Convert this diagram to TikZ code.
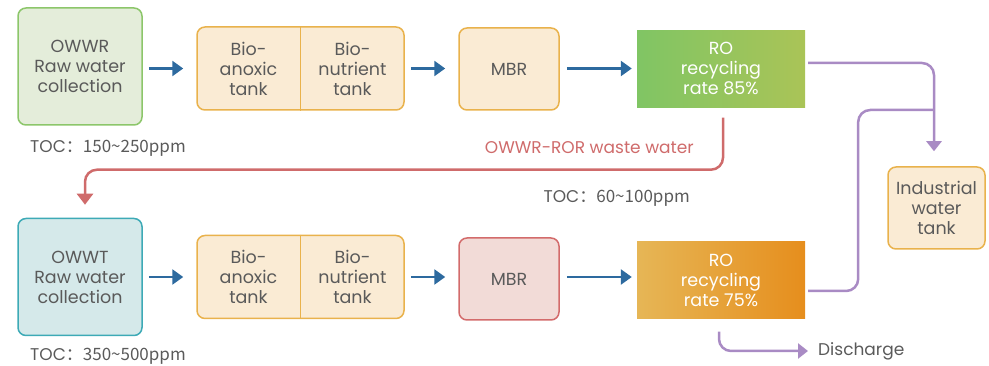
\documentclass[tikz,border=0pt]{standalone}
\usepackage{fontspec}
\setmainfont{Poppins}
\newfontfamily\cjk{Noto Sans CJK SC}
\usetikzlibrary{arrows.meta,positioning,calc}
\definecolor{wwText}{HTML}{5A5A5A}
\definecolor{wwFlow}{HTML}{2D6A9F}
\definecolor{wwRecyc}{HTML}{A98BC4}
\definecolor{wwWaste}{HTML}{CF6B6B}
\definecolor{wwGreen}{HTML}{8CC66A}
\definecolor{wwGreenBg}{HTML}{E4EDDA}
\definecolor{wwTeal}{HTML}{3DAAB6}
\definecolor{wwTealBg}{HTML}{D5E9EA}
\definecolor{wwTank}{HTML}{E9B24C}
\definecolor{wwTankBg}{HTML}{FAEBD4}
\definecolor{wwMbrRed}{HTML}{D36B6B}
\definecolor{wwMbrBg}{HTML}{F2DBD7}
\definecolor{wwRoGa}{HTML}{80C564}
\definecolor{wwRoGb}{HTML}{AAC457}
\definecolor{wwRoOa}{HTML}{E6B656}
\definecolor{wwRoOb}{HTML}{E68E1D}
\tikzset{
  wwnode/.style={
    draw, rounded corners=8pt, line width=1.5pt, align=center,
    font=\fontsize{17.5}{20}\selectfont, text=wwText, inner sep=0pt
  },
  rawbox/.style={wwnode, minimum width=124, minimum height=117},
  owwrbox/.style={rawbox, fill=wwGreenBg, draw=wwGreen},
  owwtbox/.style={rawbox, fill=wwTealBg, draw=wwTeal},
  tankbox/.style={wwnode, fill=wwTankBg, draw=wwTank, minimum width=207, minimum height=83},
  tanktext/.style={align=center, font=\fontsize{17.5}{20}\selectfont, text=wwText, inner sep=0pt},
  tankline/.style={draw=wwTank, line width=1.5pt},
  mbrbox/.style={wwnode, fill=wwTankBg, draw=wwTank, minimum width=100, minimum height=82},
  mbrredbox/.style={mbrbox, fill=wwMbrBg, draw=wwMbrRed},
  robox/.style={align=center, font=\fontsize{17.5}{20}\selectfont, text=white,
    inner sep=0pt, minimum width=168, minimum height=77},
  rogreen/.style={robox, left color=wwRoGa, right color=wwRoGb},
  roorange/.style={robox, left color=wwRoOa, right color=wwRoOb},
  indbox/.style={wwnode, fill=wwTankBg, draw=wwTank, minimum width=97, minimum height=82},
  tag/.style={font=\fontsize{17}{20}\selectfont, text=wwText, inner sep=0pt},
  flow/.style={-{Triangle[length=11pt, width=15pt]}, line width=2.5pt, wwFlow},
  recyc/.style={line width=2.5pt, wwRecyc, rounded corners=12pt},
  waste/.style={-{Triangle[length=11pt, width=16pt]}, line width=2.5pt, wwWaste, rounded corners=12pt}
}
\begin{document}
\begin{tikzpicture}[x=1pt, y=-1pt]
  \useasboundingbox (0,0) rectangle (989,366);

  % top line: OWWR
  \node[owwrbox] (owwr) at (80,66.5) {OWWR\\Raw water\\collection};
  \node[tag, anchor=west] (toc1) at (30,148) {TOC\cjk{：}150\textasciitilde250ppm};
  \node[tankbox] (bio1) at (300.5,68.5) {};
  \node[tanktext] (anox1) at ([xshift=-52]bio1.center) {Bio-\\anoxic\\tank};
  \node[tanktext] (nutr1) at ([xshift=52]bio1.center) {Bio-\\nutrient\\tank};
  \draw[tankline] (bio1.north) -- (bio1.south);
  \node[mbrbox] (mbr1) at (509,69) {MBR};
  \node[rogreen] (ro1) at (721,69) {RO\\recycling\\rate 85\%};

  % bottom line: OWWT
  \node[owwtbox] (owwt) at (80,277) {OWWT\\Raw water\\collection};
  \node[tag, anchor=west] (toc2) at (30,356) {TOC\cjk{：}350\textasciitilde500ppm};
  \node[tankbox] (bio2) at (300.5,277) {};
  \node[tanktext] (anox2) at ([xshift=-52]bio2.center) {Bio-\\anoxic\\tank};
  \node[tanktext] (nutr2) at ([xshift=52]bio2.center) {Bio-\\nutrient\\tank};
  \draw[tankline] (bio2.north) -- (bio2.south);
  \node[mbrredbox] (mbr2) at (509,279) {MBR};
  \node[roorange] (ro2) at (721,280) {RO\\recycling\\rate 75\%};

  \node[indbox] (ind) at (936.5,208) {Industrial\\water\\tank};
  \node[tag, anchor=west] (dis) at (818,351) {Discharge};
  \node[tag, anchor=east, text=wwWaste] (wastelbl) at (694,148) {OWWR-ROR waste water};
  \node[tag, anchor=east] (toc3) at (690,198) {TOC\cjk{：}60\textasciitilde100ppm};
  \coordinate (join) at (934,110);

  % flows
  \draw[flow] ([xshift=6]owwr.east |- bio1.west) -- ([xshift=-13]bio1.west);
  \draw[flow] ([xshift=6]bio1.east) -- ([xshift=-13]mbr1.west |- bio1.east);
  \draw[flow] ([xshift=7]mbr1.east |- bio1.east) -- ([xshift=-5]ro1.west |- bio1.east);
  \draw[flow] ([xshift=6]owwt.east |- bio2.west) -- ([xshift=-13]bio2.west);
  \draw[flow] ([xshift=6]bio2.east) -- ([xshift=-13]mbr2.west |- bio2.east);
  \draw[flow] ([xshift=7]mbr2.east |- bio2.east) -- ([xshift=-5]ro2.west |- bio2.east);

  % recycled and waste water
  \draw[recyc, -{Triangle[length=10pt, width=15pt]}]
    ([xshift=3,yshift=6]ro1.east) -| ([xshift=-2.5,yshift=15]ind.north);
  \draw[recyc] ([xshift=3,yshift=-11]ro2.east) -- ++(50,0) |- (join);
  \draw[recyc, -{Triangle[length=10pt, width=15pt]}]
    ([xshift=-2,yshift=-13]ro2.south) |- ([xshift=-10]dis.west);
  \draw[waste] ([xshift=2,yshift=-10]ro1.south) -- ++(0,52)
    -| ([xshift=5,yshift=13]owwt.north);
\end{tikzpicture}
\end{document}
